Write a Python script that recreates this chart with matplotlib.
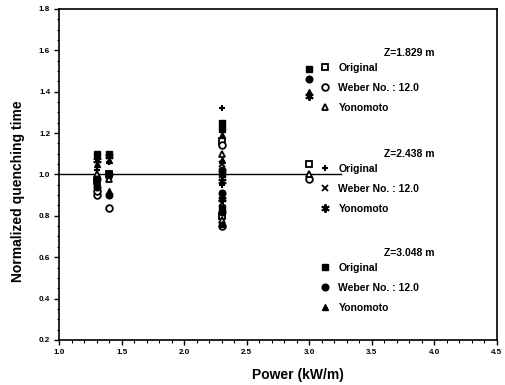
import matplotlib
matplotlib.use("Agg")
import matplotlib.pyplot as plt
from matplotlib.ticker import MultipleLocator
from matplotlib.legend import Legend

plt.rcParams['font.family'] = ['Liberation Sans', 'DejaVu Sans']

# ---- data ----
orig1_x = [1.3, 1.4, 2.3, 2.3, 3.0]
orig1_y = [0.97, 1.00, 1.16, 0.80, 1.05]
weber1_x = [1.3, 1.3, 1.4, 2.3, 2.3, 3.0]
weber1_y = [0.90, 0.92, 0.84, 0.75, 1.14, 0.98]
yono1_x = [1.3, 1.4, 2.3, 2.3, 3.0]
yono1_y = [1.00, 0.98, 1.10, 0.78, 1.00]

orig2_x = [1.3, 1.4, 2.3, 2.3]
orig2_y = [1.02, 1.06, 1.32, 0.95]
weber2_x = [1.3, 1.4, 2.3, 2.3]
weber2_y = [0.96, 0.99, 1.05, 0.86]
yono2_x = [1.3, 1.4, 2.3, 2.3, 3.0]
yono2_y = [1.07, 1.09, 0.97, 0.88, 1.38]

orig3_x = [1.3, 1.4, 2.3, 2.3, 2.3, 2.3, 3.0]
orig3_y = [1.10, 1.10, 1.25, 1.22, 1.00, 0.84, 1.51]
weber3_x = [1.3, 1.3, 1.4, 1.4, 2.3, 2.3, 2.3, 3.0]
weber3_y = [0.98, 0.94, 1.00, 0.90, 1.02, 0.91, 0.82, 1.46]
yono3_x = [1.3, 1.4, 1.4, 2.3, 2.3, 2.3, 2.3, 3.0]
yono3_y = [1.05, 1.07, 0.92, 1.19, 1.07, 0.89, 0.76, 1.40]

ref_x = [1.0, 3.25]
ref_y = [1.0, 1.0]

labels = ["Original", "Weber No. : 12.0", "Yonomoto"]
group_titles = ["Z=1.829 m", "Z=2.438 m", "Z=3.048 m"]
x_ticks = [1.0, 1.5, 2.0, 2.5, 3.0, 3.5, 4.0, 4.5]
y_ticks = [0.2, 0.4, 0.6, 0.8, 1.0, 1.2, 1.4, 1.6, 1.8]

fig = plt.figure(figsize=(5.06, 3.85), dpi=100)
ax = fig.add_axes([0.117, 0.117, 0.865, 0.860])

ms = 4.8
common = dict(linestyle='none', color='black', markersize=ms)
ax.plot(ref_x, ref_y, color='black', lw=1.0, zorder=1)

h = []
h.append(ax.plot(orig1_x, orig1_y, marker='s', mfc='white', mew=1.3, **common)[0])
h.append(ax.plot(weber1_x, weber1_y, marker='o', mfc='white', mew=1.3, **common)[0])
h.append(ax.plot(yono1_x, yono1_y, marker='^', mfc='white', mew=1.3, **common)[0])
h.append(ax.plot(orig2_x, orig2_y, marker='+', mew=1.5, **common)[0])
h.append(ax.plot(weber2_x, weber2_y, marker='x', mew=1.3, **common)[0])
h.append(ax.plot(yono2_x, yono2_y, marker=(6, 2, 0), mew=1.4,
                 linestyle='none', color='black', markersize=6)[0])
h.append(ax.plot(orig3_x, orig3_y, marker='s', **common)[0])
h.append(ax.plot(weber3_x, weber3_y, marker='o', **common)[0])
h.append(ax.plot(yono3_x, yono3_y, marker='^', **common)[0])

ax.set_xlim(1.0, 4.5)
ax.set_ylim(0.2, 1.8)
ax.set_xticks(x_ticks)
ax.set_yticks(y_ticks)
ax.set_xticklabels([f"{v:.1f}" for v in x_ticks])
ax.set_yticklabels([f"{v:.1f}" for v in y_ticks])
ax.xaxis.set_minor_locator(MultipleLocator(0.1))
ax.yaxis.set_minor_locator(MultipleLocator(0.05))
ax.tick_params(which='major', direction='out', length=3.5, width=1.0,
               labelsize=5.8, pad=3)
ax.tick_params(which='minor', direction='out', length=1.8, width=0.8)
for lab in ax.get_xticklabels() + ax.get_yticklabels():
    lab.set_fontweight('bold')
for s in ax.spines.values():
    s.set_linewidth(1.2)

ax.set_xlabel("Power (kW/m)", fontsize=10, fontweight='bold')
ax.set_ylabel("Normalized quenching time", fontsize=10, fontweight='bold')
ax.xaxis.set_label_coords(0.546, -0.085)
ax.yaxis.set_label_coords(-0.078, 0.45)

title_y = [0.867, 0.562, 0.263]
leg_top = [0.837, 0.532, 0.233]
for g in range(3):
    ax.text(0.80, title_y[g], group_titles[g], transform=ax.transAxes,
            ha='center', va='center', fontsize=7.5, fontweight='bold')
    leg = Legend(ax, h[3 * g:3 * g + 3], labels, loc='upper left',
                 bbox_to_anchor=(0.595, leg_top[g]), frameon=False,
                 borderpad=0, borderaxespad=0, handlelength=1.0,
                 handletextpad=0.8, labelspacing=0.95,
                 prop={'size': 7.5, 'weight': 'bold'})
    ax.add_artist(leg)

fig.savefig("out.png", dpi=100)
